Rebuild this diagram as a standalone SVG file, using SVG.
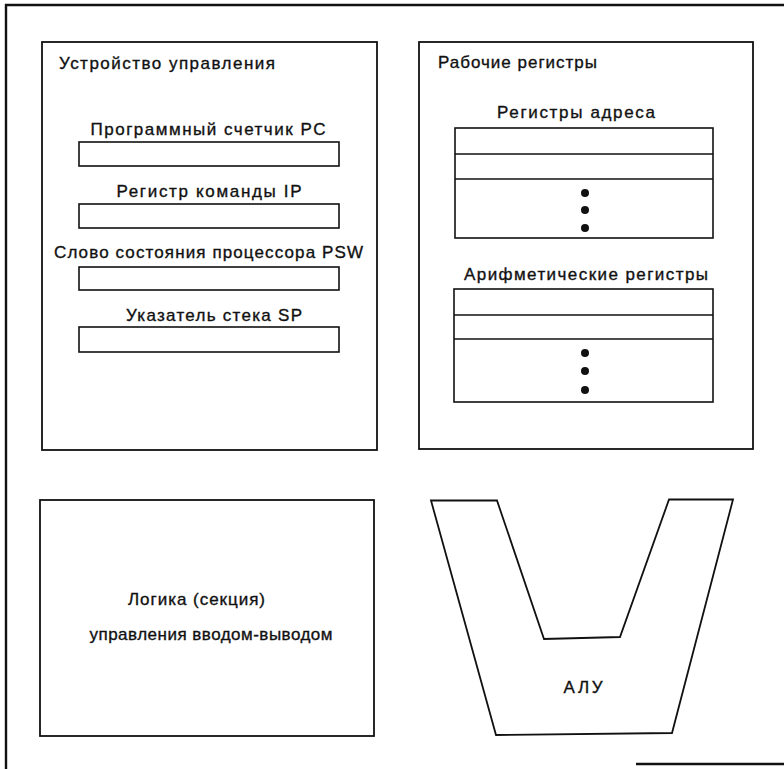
<svg xmlns="http://www.w3.org/2000/svg" width="784" height="769" viewBox="0 0 784 769">
<style>
.t{font-family:"Liberation Sans",Arial,sans-serif;font-size:17px;fill:#111;stroke:#111;stroke-width:0.35;}
.m{text-anchor:middle;}
.box{fill:none;stroke:#111;stroke-width:1.8;}
.reg{fill:none;stroke:#111;stroke-width:1.6;}
.frame{fill:none;stroke:#111;stroke-width:2.4;}
.dot{fill:#111;}
</style>
<rect width="784" height="769" fill="#fff"/>
<g id="frame">
<polyline class="frame" points="784,5 6,5 6,769"/>
<line class="frame" x1="636" y1="764" x2="784" y2="764"/>
</g>
<g id="control-unit">
<rect class="box" x="42" y="42" width="335" height="408"/>
<text class="t" x="59" y="69" textLength="216" lengthAdjust="spacing">Устройство управления</text>
<text class="t m" x="208" y="135" textLength="235" lengthAdjust="spacing">Программный счетчик PC</text>
<rect class="reg" x="79" y="142" width="260" height="24"/>
<text class="t m" x="209" y="197" textLength="185" lengthAdjust="spacing">Регистр команды IP</text>
<rect class="reg" x="79" y="204" width="260" height="24"/>
<text class="t m" x="208.5" y="258" textLength="309" lengthAdjust="spacing">Слово состояния процессора PSW</text>
<rect class="reg" x="79" y="267" width="260" height="23"/>
<text class="t m" x="214" y="321" textLength="176" lengthAdjust="spacing">Указатель стека SP</text>
<rect class="reg" x="79" y="327" width="260" height="25"/>
</g>
<g id="working-registers">
<rect class="box" x="419" y="42" width="334" height="407"/>
<text class="t" x="438" y="68" textLength="159" lengthAdjust="spacing">Рабочие регистры</text>
<g id="address-registers">
<text class="t m" x="576" y="118" textLength="158" lengthAdjust="spacing">Регистры адреса</text>
<rect class="reg" x="455" y="128" width="258" height="110"/>
<line class="reg" x1="455" y1="154" x2="713" y2="154"/>
<line class="reg" x1="455" y1="179" x2="713" y2="179"/>
<circle class="dot" cx="585" cy="193" r="4"/>
<circle class="dot" cx="585" cy="210" r="4"/>
<circle class="dot" cx="585" cy="228" r="4"/>
</g>
<g id="arithmetic-registers">
<text class="t m" x="586" y="280" textLength="244" lengthAdjust="spacing">Арифметические регистры</text>
<rect class="reg" x="454" y="289" width="259" height="113"/>
<line class="reg" x1="454" y1="315" x2="713" y2="315"/>
<line class="reg" x1="454" y1="339" x2="713" y2="339"/>
<circle class="dot" cx="585" cy="353" r="4"/>
<circle class="dot" cx="585" cy="371" r="4"/>
<circle class="dot" cx="585" cy="390" r="4"/>
</g>
</g>
<g id="io-logic">
<rect class="box" x="40" y="500" width="334" height="236"/>
<text class="t m" x="196.5" y="605" textLength="137" lengthAdjust="spacing">Логика (секция)</text>
<text class="t m" x="211" y="640" textLength="243" lengthAdjust="spacing">управления вводом-выводом</text>
</g>
<g id="alu">
<polygon class="box" points="431,500.5 497,500.5 544,639 620,637 669,499.5 733,499.5 672,733 496,735"/>
<text class="t m" x="583" y="693" textLength="39" lengthAdjust="spacing">АЛУ</text>
</g>
</svg>
